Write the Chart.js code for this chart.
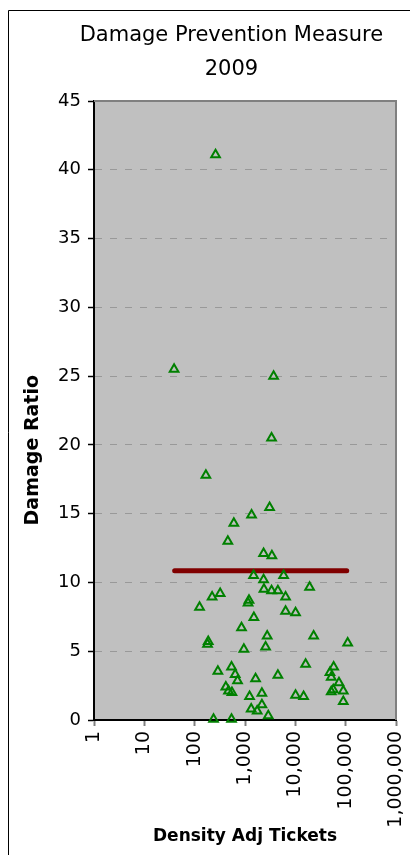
<!DOCTYPE html>
<html lang="en">
<head>
<meta charset="utf-8"/>
<script src="https://cdn.jsdelivr.net/npm/chart.js@4.4.1/dist/chart.umd.min.js"></script>
<style>
    body { margin: 0; background: #fff; }
    #wrap { width: 410px; height: 855px; }
</style>
</head>
<body>
<div id="wrap"><canvas id="chart" width="410" height="855"></canvas></div>
<script>
    // density adjusted tickets (x, log scale) and damage ratio (y)
    const tickets = [260, 39, 3700, 3370, 167, 3080, 1350, 600, 456, 2340,
        3420, 1480, 2340, 5850, 2380, 3370, 4500, 19200, 321, 222,
        1150, 1200, 6400, 125, 1500, 6400, 10100, 853, 2760, 23100,
        180, 186, 949, 2565, 109600, 289, 540, 638, 711, 1622,
        4500, 16000, 57700, 48700, 51700, 73600, 89700, 56700, 51700, 89700,
        416, 470, 550, 1232, 2165, 10100, 14600, 1327, 1745, 2165,
        237, 540, 2900];
    const ratios = [41.1, 25.5, 25.0, 20.5, 17.8, 15.45, 14.9, 14.3, 13.0, 12.1,
        11.95, 10.5, 10.2, 10.5, 9.5, 9.4, 9.4, 9.65, 9.2, 8.95,
        8.5, 8.7, 8.95, 8.2, 7.45, 7.9, 7.8, 6.7, 6.1, 6.1,
        5.5, 5.7, 5.15, 5.3, 5.6, 3.55, 3.85, 3.3, 2.85, 3.0,
        3.25, 4.05, 3.85, 3.45, 3.1, 2.7, 2.1, 2.2, 2.05, 1.35,
        2.4, 2.1, 2.0, 1.7, 1.95, 1.8, 1.7, 0.8, 0.65, 1.1,
        0.05, 0.05, 0.3];

    // overall ratio line
    const avgX = [40, 105000];
    const avgY = [10.85, 10.85];

    const xTicks = [1, 10, 100, 1000, 10000, 100000, 1000000];

    const FONT = 'DejaVu Sans';

    // grey plot area, plot border and the outer frame
    const frame = {
        id: 'frame',
        beforeDraw(chart) {
            const {ctx, chartArea: a} = chart;
            ctx.save();
            ctx.fillStyle = '#c0c0c0';
            ctx.fillRect(a.left, a.top, a.right - a.left, a.bottom - a.top);
            ctx.strokeStyle = '#000';
            ctx.lineWidth = 1;
            ctx.beginPath();
            ctx.moveTo(8.5, 855);
            ctx.lineTo(8.5, 10.5);
            ctx.lineTo(410, 10.5);
            ctx.stroke();
            ctx.restore();
        },
        beforeDatasetsDraw(chart) {
            const {ctx, chartArea: a} = chart;
            ctx.save();
            ctx.strokeStyle = '#808080';
            ctx.lineWidth = 2;
            ctx.beginPath();
            ctx.moveTo(a.left, a.top);
            ctx.lineTo(a.right, a.top);
            ctx.lineTo(a.right, a.bottom);
            ctx.stroke();
            ctx.restore();
        }
    };

    const config = {
        data: {
            datasets: [
                {
                    type: 'scatter',
                    label: 'Damage Ratio',
                    data: tickets.map((t, i) => ({x: t, y: ratios[i]})),
                    pointStyle: 'triangle',
                    pointRadius: 5,
                    pointBorderWidth: 2,
                    pointBorderColor: '#008000',
                    pointBackgroundColor: 'rgba(0,0,0,0)',
                    clip: false
                },
                {
                    type: 'line',
                    label: 'Overall',
                    data: avgX.map((x, i) => ({x: x, y: avgY[i]})),
                    borderColor: '#800000',
                    borderWidth: 5,
                    borderCapStyle: 'round',
                    pointRadius: 0
                }
            ]
        },
        options: {
            responsive: false,
            animation: false,
            events: [],
            layout: { padding: { right: 14 } },
            plugins: {
                legend: { display: false },
                tooltip: { enabled: false },
                title: {
                    display: true,
                    // leading spaces nudge the centred title to the right, as in Excel
                    text: ['          Damage Prevention Measure', '          2009'],
                    color: '#000',
                    font: { family: FONT, size: 21, weight: 'normal', lineHeight: 1.62 },
                    padding: { top: 19, bottom: 14 }
                }
            },
            scales: {
                x: {
                    type: 'logarithmic',
                    min: 1,
                    max: 1000000,
                    afterBuildTicks: (scale) => { scale.ticks = xTicks.map(v => ({value: v})); },
                    afterFit: (scale) => {
                        scale.height = 135;
                        scale.paddingRight = 0;
                        scale.paddingLeft = 0;
                    },
                    ticks: {
                        autoSkip: false,
                        minRotation: 90,
                        maxRotation: 90,
                        padding: 5,
                        color: '#000',
                        font: { family: FONT, size: 19 },
                        callback: (v) => Number(v).toLocaleString('en-US')
                    },
                    grid: {
                        drawOnChartArea: false,
                        tickLength: 6,
                        tickColor: '#808080',
                        tickWidth: 2
                    },
                    border: { color: '#000', width: 2 },
                    title: {
                        display: true,
                        text: 'Density Adj Tickets',
                        color: '#000',
                        font: { family: FONT, size: 17, weight: 'bold' },
                        padding: { top: 0, bottom: 8 }
                    }
                },
                y: {
                    min: 0,
                    max: 45,
                    afterFit: (scale) => { scale.width = 94; },
                    ticks: {
                        stepSize: 5,
                        padding: 7,
                        color: '#000',
                        font: { family: FONT, size: 18 }
                    },
                    grid: {
                        color: (c) => (c.tick && (c.tick.value === 0 || c.tick.value === 45)) ? 'rgba(0,0,0,0)' : '#999999',
                        lineWidth: 1,
                        tickLength: 6,
                        tickColor: '#000',
                        tickWidth: 1.5,
                        tickBorderDash: []
                    },
                    border: { color: '#000', width: 2, dash: [7, 8] },
                    title: {
                        display: true,
                        // trailing spaces push the label down the axis like the original
                        text: 'Damage Ratio            ',
                        color: '#000',
                        font: { family: FONT, size: 19, weight: 'bold' },
                        padding: { top: 22, bottom: 0 }
                    }
                }
            }
        },
        plugins: [frame]
    };

    new Chart(document.getElementById('chart'), config);
</script>
</body>
</html>
